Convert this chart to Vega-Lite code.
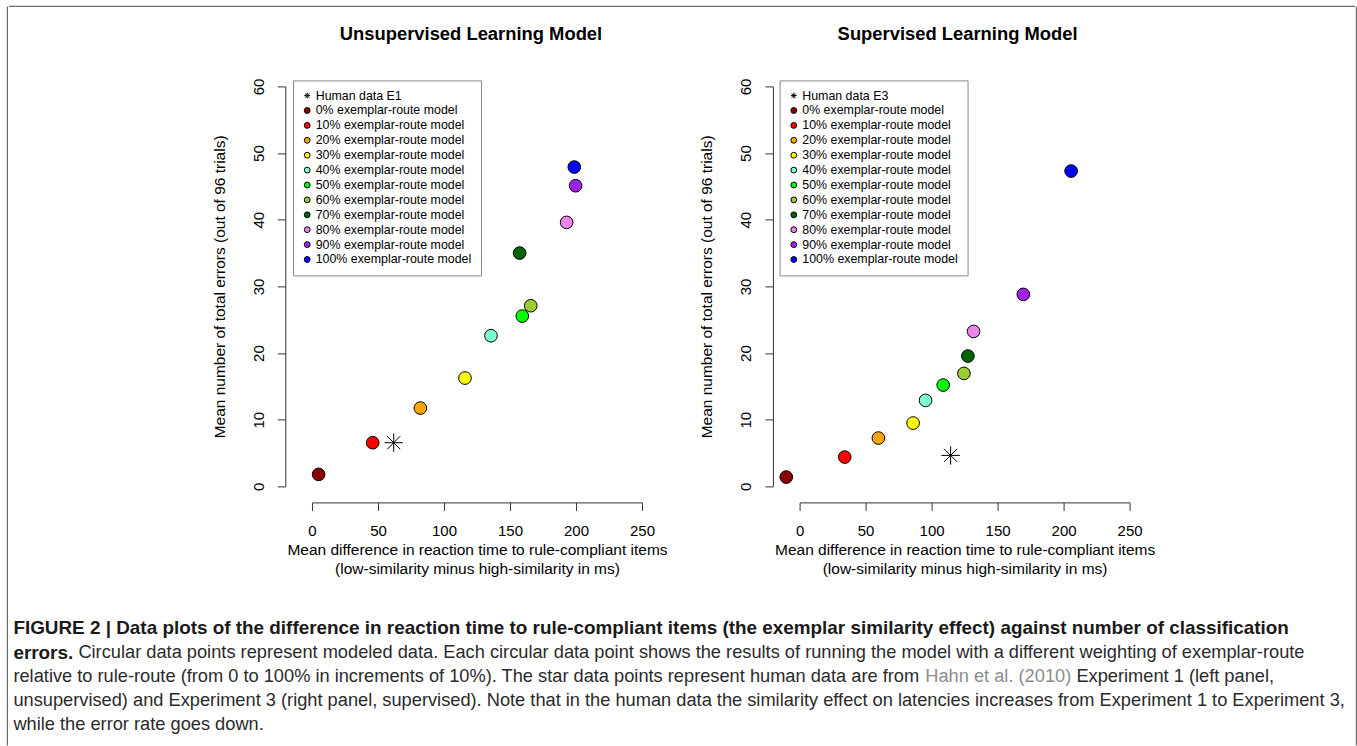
{
  "$schema": "https://vega.github.io/schema/vega-lite/v6.json",
  "background": "white",
  "padding": {"left": 6.4, "top": 5.4, "right": 0, "bottom": 0},
  "config": {
    "view": {"stroke": null},
    "font": "Liberation Sans",
    "axis": {"domainColor": "#333", "tickColor": "#333", "domainWidth": 1, "tickWidth": 1, "tickSize": 8, "labelFont": "Liberation Sans", "labelFontSize": 15, "labelColor": "black", "titleFont": "Liberation Sans", "titleFontSize": 15.5, "titleFontWeight": "normal", "titleColor": "black", "grid": false, "labelOverlap": false, "labelFlush": false},
    "axisX": {"offset": 16, "labelPadding": 13, "titlePadding": 4, "titleLineHeight": 18.7},
    "axisY": {"offset": 26.7, "labelAngle": -90, "labelAlign": "center", "labelBaseline": "bottom", "labelPadding": 11, "titlePadding": 24},
    "legend": {"orient": "none", "title": null, "fillColor": "white", "strokeColor": "#888", "padding": 9, "symbolSize": 34, "symbolStrokeColor": "black", "symbolStrokeWidth": 1, "labelFont": "Liberation Sans", "labelFontSize": 12.4, "labelColor": "black", "rowPadding": 1.9, "symbolOffset": -1, "labelOffset": 2.3, "labelLimit": 400}
  },
  "spacing": 0,
  "hconcat": [
    {
      "width": 1, "height": 739,
      "data": {"values": [{}]},
      "mark": {"type": "rule", "color": "#6a6a6a", "strokeWidth": 1.2},
      "encoding": {"x": {"datum": 0, "type": "quantitative", "scale": {"domain": [0, 1], "nice": false}, "axis": null}, "y": {"datum": 0, "type": "quantitative", "scale": {"domain": [0, 1], "nice": false}, "axis": null}, "y2": {"datum": 1}}
    },
    {
      "spacing": 17,
      "vconcat": [
        {
          "width": 1345, "height": 1,
          "data": {"values": [{}]},
          "mark": {"type": "rule", "color": "#6a6a6a", "strokeWidth": 1.2, "strokeCap": "square"},
          "encoding": {"y": {"datum": 1, "type": "quantitative", "scale": {"domain": [0, 1], "nice": false}, "axis": null}, "x": {"datum": 0, "type": "quantitative", "scale": {"domain": [0, 1], "nice": false}, "axis": null}, "x2": {"datum": 1}}
        },
        {
          "spacing": 42,
          "vconcat": [
            {
              "spacing": 31.6,
              "hconcat": [
                {"width": 170.5, "height": 10, "data": {"values": []}, "mark": {"type": "point"}, "encoding": {}},
                {
                  "width": 330, "height": 400,
                  "title": {"text": "Unsupervised Learning Model", "font": "Liberation Sans", "fontSize": 18.4, "fontWeight": "bold", "color": "black", "anchor": "middle", "dx": -6, "offset": 35},
                  "data": {"values": [
                    {"series": "Human data E1", "kind": "human", "rt": 61.9, "errors": 6.55},
                    {"series": "0% exemplar-route model", "kind": "model", "rt": 5.0, "errors": 1.8},
                    {"series": "10% exemplar-route model", "kind": "model", "rt": 46.0, "errors": 6.55},
                    {"series": "20% exemplar-route model", "kind": "model", "rt": 82.1, "errors": 11.75},
                    {"series": "30% exemplar-route model", "kind": "model", "rt": 115.9, "errors": 16.25},
                    {"series": "40% exemplar-route model", "kind": "model", "rt": 135.6, "errors": 22.6},
                    {"series": "50% exemplar-route model", "kind": "model", "rt": 159.3, "errors": 25.55},
                    {"series": "60% exemplar-route model", "kind": "model", "rt": 165.7, "errors": 27.1},
                    {"series": "70% exemplar-route model", "kind": "model", "rt": 157.3, "errors": 35.0},
                    {"series": "80% exemplar-route model", "kind": "model", "rt": 192.9, "errors": 39.6},
                    {"series": "90% exemplar-route model", "kind": "model", "rt": 199.7, "errors": 45.1},
                    {"series": "100% exemplar-route model", "kind": "model", "rt": 198.7, "errors": 47.9}
                  ]},
                  "mark": {"type": "point", "filled": true, "stroke": "black", "strokeWidth": 1, "opacity": 1},
                  "encoding": {
                    "x": {"field": "rt", "type": "quantitative", "scale": {"domain": [0, 250], "nice": false, "zero": false}, "axis": {"values": [0, 50, 100, 150, 200, 250], "title": ["Mean difference in reaction time to rule-compliant items", "(low-similarity minus high-similarity in ms)"]}},
                    "y": {"field": "errors", "type": "quantitative", "scale": {"domain": [0, 60], "nice": false, "zero": false}, "axis": {"values": [0, 10, 20, 30, 40, 50, 60], "title": "Mean number of total errors (out of 96 trials)"}},
                    "color": {"field": "series", "type": "nominal", "scale": {"domain": ["Human data E1", "0% exemplar-route model", "10% exemplar-route model", "20% exemplar-route model", "30% exemplar-route model", "40% exemplar-route model", "50% exemplar-route model", "60% exemplar-route model", "70% exemplar-route model", "80% exemplar-route model", "90% exemplar-route model", "100% exemplar-route model"], "range": ["#000000", "#8B0000", "#FF0000", "#FFA500", "#FFFF00", "#7FFFD4", "#00FF00", "#9ACD32", "#006400", "#EE82EE", "#A020F0", "#0000FF"]}, "legend": {"legendX": -19, "legendY": -6}},
                    "shape": {"field": "series", "type": "nominal", "scale": {"domain": ["Human data E1", "0% exemplar-route model", "10% exemplar-route model", "20% exemplar-route model", "30% exemplar-route model", "40% exemplar-route model", "50% exemplar-route model", "60% exemplar-route model", "70% exemplar-route model", "80% exemplar-route model", "90% exemplar-route model", "100% exemplar-route model"], "range": ["M-1,0L1,0M0,-1L0,1M-0.7071,-0.7071L0.7071,0.7071M-0.7071,0.7071L0.7071,-0.7071", "circle", "circle", "circle", "circle", "circle", "circle", "circle", "circle", "circle", "circle", "circle"]}, "legend": {"legendX": -19, "legendY": -6}},
                    "size": {"field": "kind", "type": "nominal", "scale": {"domain": ["human", "model"], "range": [340, 160]}, "legend": null}
                  }
                },
                {
                  "width": 330, "height": 400,
                  "title": {"text": "Supervised Learning Model", "font": "Liberation Sans", "fontSize": 18.4, "fontWeight": "bold", "color": "black", "anchor": "middle", "dx": -7, "offset": 35},
                  "data": {"values": [
                    {"series": "Human data E3", "kind": "human", "rt": 114.4, "errors": 4.65},
                    {"series": "0% exemplar-route model", "kind": "model", "rt": -10.1, "errors": 1.4},
                    {"series": "10% exemplar-route model", "kind": "model", "rt": 34.2, "errors": 4.4},
                    {"series": "20% exemplar-route model", "kind": "model", "rt": 59.7, "errors": 7.25},
                    {"series": "30% exemplar-route model", "kind": "model", "rt": 86.0, "errors": 9.5},
                    {"series": "40% exemplar-route model", "kind": "model", "rt": 95.4, "errors": 12.9},
                    {"series": "50% exemplar-route model", "kind": "model", "rt": 108.8, "errors": 15.2},
                    {"series": "60% exemplar-route model", "kind": "model", "rt": 124.5, "errors": 16.95},
                    {"series": "70% exemplar-route model", "kind": "model", "rt": 127.5, "errors": 19.55},
                    {"series": "80% exemplar-route model", "kind": "model", "rt": 131.8, "errors": 23.25},
                    {"series": "90% exemplar-route model", "kind": "model", "rt": 169.5, "errors": 28.8},
                    {"series": "100% exemplar-route model", "kind": "model", "rt": 205.7, "errors": 47.3}
                  ]},
                  "mark": {"type": "point", "filled": true, "stroke": "black", "strokeWidth": 1, "opacity": 1},
                  "encoding": {
                    "x": {"field": "rt", "type": "quantitative", "scale": {"domain": [0, 250], "nice": false, "zero": false}, "axis": {"values": [0, 50, 100, 150, 200, 250], "title": ["Mean difference in reaction time to rule-compliant items", "(low-similarity minus high-similarity in ms)"]}},
                    "y": {"field": "errors", "type": "quantitative", "scale": {"domain": [0, 60], "nice": false, "zero": false}, "axis": {"values": [0, 10, 20, 30, 40, 50, 60], "title": "Mean number of total errors (out of 96 trials)"}},
                    "color": {"field": "series", "type": "nominal", "scale": {"domain": ["Human data E3", "0% exemplar-route model", "10% exemplar-route model", "20% exemplar-route model", "30% exemplar-route model", "40% exemplar-route model", "50% exemplar-route model", "60% exemplar-route model", "70% exemplar-route model", "80% exemplar-route model", "90% exemplar-route model", "100% exemplar-route model"], "range": ["#000000", "#8B0000", "#FF0000", "#FFA500", "#FFFF00", "#7FFFD4", "#00FF00", "#9ACD32", "#006400", "#EE82EE", "#A020F0", "#0000FF"]}, "legend": {"legendX": -20, "legendY": -6}},
                    "shape": {"field": "series", "type": "nominal", "scale": {"domain": ["Human data E3", "0% exemplar-route model", "10% exemplar-route model", "20% exemplar-route model", "30% exemplar-route model", "40% exemplar-route model", "50% exemplar-route model", "60% exemplar-route model", "70% exemplar-route model", "80% exemplar-route model", "90% exemplar-route model", "100% exemplar-route model"], "range": ["M-1,0L1,0M0,-1L0,1M-0.7071,-0.7071L0.7071,0.7071M-0.7071,0.7071L0.7071,-0.7071", "circle", "circle", "circle", "circle", "circle", "circle", "circle", "circle", "circle", "circle", "circle"]}, "legend": {"legendX": -20, "legendY": -6}},
                    "size": {"field": "kind", "type": "nominal", "scale": {"domain": ["human", "model"], "range": [340, 160]}, "legend": null}
                  }
                }
              ],
              "resolve": {"scale": {"color": "independent", "shape": "independent", "size": "independent"}}
            },
            {
              "width": 1333, "height": 97,
              "data": {"values": [
                {"line": 1, "role": "heading", "segment": 1, "text": "FIGURE 2 | Data plots of the difference in reaction time to rule-compliant items (the exemplar similarity effect) against number of classification"},
                {"line": 2, "role": "heading", "segment": 1, "text": "errors."},
                {"line": 2, "role": "body", "segment": 2, "text": "Circular data points represent modeled data. Each circular data point shows the results of running the model with a different weighting of exemplar-route"},
                {"line": 3, "role": "body", "segment": 1, "text": "relative to rule-route (from 0 to 100% in increments of 10%). The star data points represent human data are from"},
                {"line": 3, "role": "citation", "segment": 2, "text": "Hahn et al. (2010)"},
                {"line": 3, "role": "body", "segment": 3, "text": "Experiment 1 (left panel,"},
                {"line": 4, "role": "body", "segment": 1, "text": "unsupervised) and Experiment 3 (right panel, supervised). Note that in the human data the similarity effect on latencies increases from Experiment 1 to Experiment 3,"},
                {"line": 5, "role": "body", "segment": 1, "text": "while the error rate goes down."}
              ]},
              "encoding": {
                "x": {"datum": 0, "type": "quantitative", "scale": {"domain": [0, 1], "nice": false}, "axis": null},
                "y": {"field": "line", "type": "quantitative", "scale": {"domain": [1, 5], "nice": false, "zero": false, "reverse": true}, "axis": null},
                "text": {"field": "text"}
              },
              "layer": [
                {"transform": [{"filter": "datum.role == 'heading'"}], "mark": {"type": "text", "align": "left", "baseline": "middle", "font": "Liberation Sans", "fontSize": 18.9, "fontWeight": "bold", "color": "#1a1a1a", "dx": 4}},
                {"transform": [{"filter": "datum.role == 'body' && datum.segment == 1"}], "mark": {"type": "text", "align": "left", "baseline": "middle", "font": "Liberation Sans", "fontSize": 18.25, "color": "#2a2a2a", "dx": 4}},
                {"transform": [{"filter": "datum.role == 'body' && datum.segment == 2"}], "mark": {"type": "text", "align": "left", "baseline": "middle", "font": "Liberation Sans", "fontSize": 18.25, "color": "#2a2a2a", "dx": 69}},
                {"transform": [{"filter": "datum.role == 'citation'"}], "mark": {"type": "text", "align": "left", "baseline": "middle", "font": "Liberation Sans", "fontSize": 18.25, "color": "#8c8c8c", "dx": 915.9}},
                {"transform": [{"filter": "datum.role == 'body' && datum.segment == 3"}], "mark": {"type": "text", "align": "left", "baseline": "middle", "font": "Liberation Sans", "fontSize": 18.25, "color": "#2a2a2a", "dx": 1067}}
              ]
            }
          ]
        }
      ]
    },
    {
      "width": 1, "height": 739,
      "data": {"values": [{}]},
      "mark": {"type": "rule", "color": "#6a6a6a", "strokeWidth": 1.2},
      "encoding": {"x": {"datum": 0, "type": "quantitative", "scale": {"domain": [0, 1], "nice": false}, "axis": null}, "y": {"datum": 0, "type": "quantitative", "scale": {"domain": [0, 1], "nice": false}, "axis": null}, "y2": {"datum": 1}}
    }
  ]
}
